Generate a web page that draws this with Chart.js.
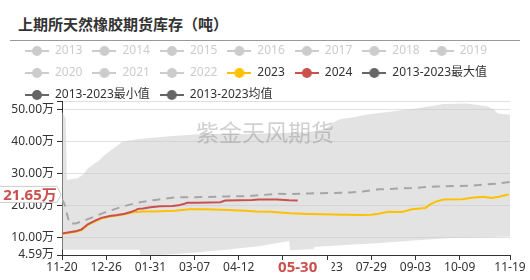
<!DOCTYPE html>
<html lang="zh">
<head>
<meta charset="utf-8"/>
<script src="https://cdn.jsdelivr.net/npm/chart.js@4.4.0/dist/chart.umd.min.js"></script>
<style>
    body { margin: 0; background: #fff; }
    #wrap { position: relative; width: 530px; height: 280px; overflow: hidden; }
    #title { position: absolute; left: 18px; top: 16px; font: bold 15px "Noto Sans CJK SC", sans-serif; line-height: 16px; color: #333; }
    #rule { position: absolute; left: 10px; top: 40px; width: 510px; border-top: 1px solid #999; }
    canvas { position: absolute; left: 0; top: 0; }
</style>
</head>
<body>
<div id="wrap">
    <div id="title">上期所天然橡胶期货库存（吨）</div>
    <div id="rule"></div>
    <canvas id="chart" width="530" height="280"></canvas>
</div>
<script>
    // x axis = days since 11-20
    const xTickDays = [0, 36, 72, 108, 144, 180, 216, 252, 288, 324, 365];
    const xTickLabels = ['11-20', '12-26', '01-31', '03-07', '04-12', '05-18', '06-23', '07-29', '09-03', '10-09', '11-19'];
    const yTickValues = [4.59, 10, 20, 30, 40, 50];
    const yMin = 4.59, yMax = 52.7;

    const greyYears = ['2013', '2014', '2015', '2016', '2017', '2018', '2019', '2020', '2021', '2022'];

    // current point
    const currentDay = 192;
    const currentLabel = '05-30';
    const currentValue = 21.65;

    // [day, 万吨]
    const s2024 = [[0, 11.3], [6, 11.7], [12, 12.1], [16, 12.6], [21, 14.2], [27, 15.3], [32, 16.2], [39, 16.8],
        [45, 17.1], [51, 17.5], [56, 18.0], [60, 18.6], [62, 19.0], [66, 19.1], [72, 19.5], [80, 19.8], [90, 19.9],
        [95, 20.1], [99, 20.5], [102, 20.9], [110, 20.9], [120, 21.0], [129, 21.1], [133, 21.6], [145, 21.7],
        [155, 21.8], [160, 21.9], [175, 21.9], [185, 21.7], [192, 21.65]];

    const s2023 = [[0, 11.2], [6, 11.5], [12, 11.9], [16, 12.4], [21, 14.0], [27, 15.1], [32, 16.0], [39, 16.6],
        [45, 16.9], [51, 17.3], [56, 17.8], [60, 18.0], [66, 18.2], [75, 18.2], [92, 18.4], [104, 18.85],
        [116, 18.85], [130, 18.7], [150, 18.4], [158, 18.2], [170, 18.1], [180, 17.8], [186, 17.6], [200, 17.4],
        [213, 17.3], [230, 17.2], [243, 17.1], [252, 17.2], [258, 17.5], [266, 18.1], [277, 18.0], [285, 18.9],
        [296, 19.3], [300, 20.4], [304, 21.2], [311, 21.9], [326, 22.0], [334, 22.5], [343, 22.8], [350, 22.4],
        [356, 22.8], [362, 23.3], [364, 23.4]];

    const sMean = [[0, 22.0], [2, 20.5], [4, 17.5], [6, 14.5], [11, 14.4], [21, 15.8], [35, 17.9], [49, 19.7],
        [62, 21.0], [76, 21.8], [92, 22.6], [116, 22.7], [135, 22.9], [153, 23.0], [175, 23.7], [186, 23.6],
        [200, 23.8], [235, 24.1], [245, 24.4], [258, 25.1], [285, 25.5], [304, 26.0], [331, 26.2], [345, 26.6],
        [355, 26.9], [365, 27.4]];

    const sMax = [[0, 49.3], [3, 47.3], [4, 28.0], [8, 28.3], [13, 28.6], [18, 30.0], [21, 31.6], [26, 33.0],
        [30, 34.0], [34, 35.5], [38, 36.8], [44, 38.5], [49, 39.9], [60, 40.7], [65, 40.9], [90, 41.8], [117, 42.5],
        [150, 42.4], [200, 42.9], [215, 44.0], [221, 46.0], [227, 47.1], [235, 47.5], [249, 48.5], [272, 49.6],
        [291, 50.5], [311, 51.8], [330, 51.9], [347, 51.0], [352, 50.0], [355, 48.8], [365, 48.4]];

    const sMin = [[0, 6.2], [63, 6.2], [64, 4.59], [80, 4.6], [105, 5.2], [133, 6.25], [160, 7.3], [178, 8.5],
        [185, 9.0], [186, 6.1], [205, 6.5], [206, 7.2], [231, 7.7], [259, 8.3], [286, 9.1], [313, 9.8],
        [341, 10.1], [365, 10.4]];

    const RED = '#c9504d', YELLOW = '#ffc000', MEAN = '#a6a6a6', DARK = '#666', GREY = '#ccc';
    const FONT = "'Noto Sans', 'Noto Sans CJK SC', sans-serif";

    function pts(arr) {
        return arr.map(p => ({x: p[0], y: p[1]}));
    }

    // echarts-like legend icon: line with a dot
    function icon(color) {
        const c = document.createElement('canvas');
        c.width = 24; c.height = 12;
        const g = c.getContext('2d');
        g.strokeStyle = color; g.lineWidth = 2;
        g.beginPath(); g.moveTo(0, 6); g.lineTo(24, 6); g.stroke();
        g.fillStyle = color;
        g.beginPath(); g.arc(12, 6, 5, 0, Math.PI * 2); g.fill();
        return c;
    }

    const datasets = [
        {label: '2024', data: pts(s2024), borderColor: RED, borderWidth: 2, legendColor: RED},
        {label: '2023', data: pts(s2023), borderColor: YELLOW, borderWidth: 2, legendColor: YELLOW},
        {label: '2013-2023均值', data: pts(sMean), borderColor: MEAN, borderWidth: 2, borderDash: [8, 6], legendColor: DARK},
        {label: '2013-2023最大值', data: pts(sMax), borderColor: 'rgba(0,0,0,0)', borderWidth: 0,
            fill: '+1', backgroundColor: 'rgba(200,200,200,0.5)', legendColor: DARK},
        {label: '2013-2023最小值', data: pts(sMin), borderColor: 'rgba(0,0,0,0)', borderWidth: 0, legendColor: DARK}
    ];

    const legendOrder = ['2023', '2024', '2013-2023最大值', '2013-2023最小值', '2013-2023均值'];

    const legendFit = {
        id: 'legendFit',
        beforeInit(chart) {
            const orig = chart.legend.fit;
            chart.legend.fit = function () {
                orig.call(this);
                this.height -= 10;
            };
        }
    };

    const markers = {
        id: 'markers',
        afterDraw(chart) {
            const {ctx, scales: {x, y}} = chart;
            ctx.save();
            // watermark
            ctx.font = '23px "Noto Sans CJK SC", sans-serif';
            ctx.fillStyle = 'rgba(120,120,120,0.35)';
            ctx.textAlign = 'center';
            ctx.textBaseline = 'middle';
            ctx.fillText('紫金天风期货', 265, 132);

            // y pointer label
            const py = y.getPixelForValue(currentValue) - 6;
            ctx.beginPath();
            ctx.moveTo(-1, py - 8);
            ctx.lineTo(57, py - 8);
            ctx.lineTo(61, py);
            ctx.lineTo(57, py + 8);
            ctx.lineTo(-1, py + 8);
            ctx.closePath();
            ctx.fillStyle = '#fff';
            ctx.fill();
            ctx.strokeStyle = '#ccc';
            ctx.lineWidth = 1;
            ctx.stroke();
            ctx.font = 'bold 15px ' + FONT;
            ctx.fillStyle = RED;
            ctx.fillText(currentValue.toFixed(2) + '万', 30, py + 1);

            // x pointer label
            const px = x.getPixelForValue(currentDay);
            ctx.fillStyle = '#fff';
            ctx.fillRect(px - 34, x.top + 6, 68, 24);
            ctx.fillStyle = RED;
            ctx.fillText(currentLabel, px, x.top + 13);
            ctx.restore();
        }
    };

    new Chart(document.getElementById('chart'), {
        type: 'line',
        data: {datasets: datasets},
        options: {
            responsive: false,
            animation: false,
            devicePixelRatio: 1,
            layout: {padding: {left: 15, right: 20, top: 35, bottom: 5.6}},
            elements: {point: {radius: 0}, line: {tension: 0}},
            font: {family: FONT},
            plugins: {
                tooltip: {enabled: false},
                legend: {
                    position: 'top',
                    align: 'start',
                    onClick: null,
                    labels: {
                        usePointStyle: true,
                        pointStyleWidth: 24,
                        padding: 10,
                        font: {size: 12, family: FONT},
                        generateLabels(chart) {
                            const items = greyYears.map(name => ({
                                text: name, fontColor: GREY, pointStyle: icon(GREY), hidden: false, lineWidth: 0
                            }));
                            legendOrder.forEach(name => {
                                const ds = chart.data.datasets.find(d => d.label === name);
                                items.push({text: name, fontColor: '#333', pointStyle: icon(ds.legendColor), hidden: false, lineWidth: 0});
                            });
                            return items;
                        }
                    }
                }
            },
            scales: {
                x: {
                    type: 'linear',
                    min: 0,
                    max: 365,
                    afterBuildTicks(scale) {
                        scale.ticks = xTickDays.map(v => ({value: v}));
                    },
                    ticks: {
                        autoSkip: false,
                        maxRotation: 0,
                        padding: 0,
                        color: '#333',
                        font: {size: 12, family: FONT},
                        callback(value) {
                            const i = xTickDays.indexOf(value);
                            return i >= 0 ? xTickLabels[i] : '';
                        }
                    },
                    grid: {drawOnChartArea: false, drawTicks: true, tickLength: 5, tickColor: '#333'},
                    border: {color: '#333', width: 1}
                },
                y: {
                    min: yMin,
                    max: yMax,
                    afterBuildTicks(scale) {
                        scale.ticks = yTickValues.concat([yMax]).map(v => ({value: v}));
                    },
                    afterFit(scale) {
                        scale.width = 47;
                        // labels are wider than the axis box; don't clip them
                        scale._computeLabelArea = () => undefined;
                    },
                    ticks: {
                        padding: 3,
                        color: '#333',
                        font: {size: 12, family: FONT},
                        callback(value) {
                            return yTickValues.includes(value) ? value.toFixed(2) + '万' : '';
                        }
                    },
                    grid: {color: '#e0e0e0', tickLength: 5, tickColor: '#333'},
                    border: {color: '#333', width: 1}
                }
            }
        },
        plugins: [legendFit, markers]
    });
</script>
</body>
</html>
